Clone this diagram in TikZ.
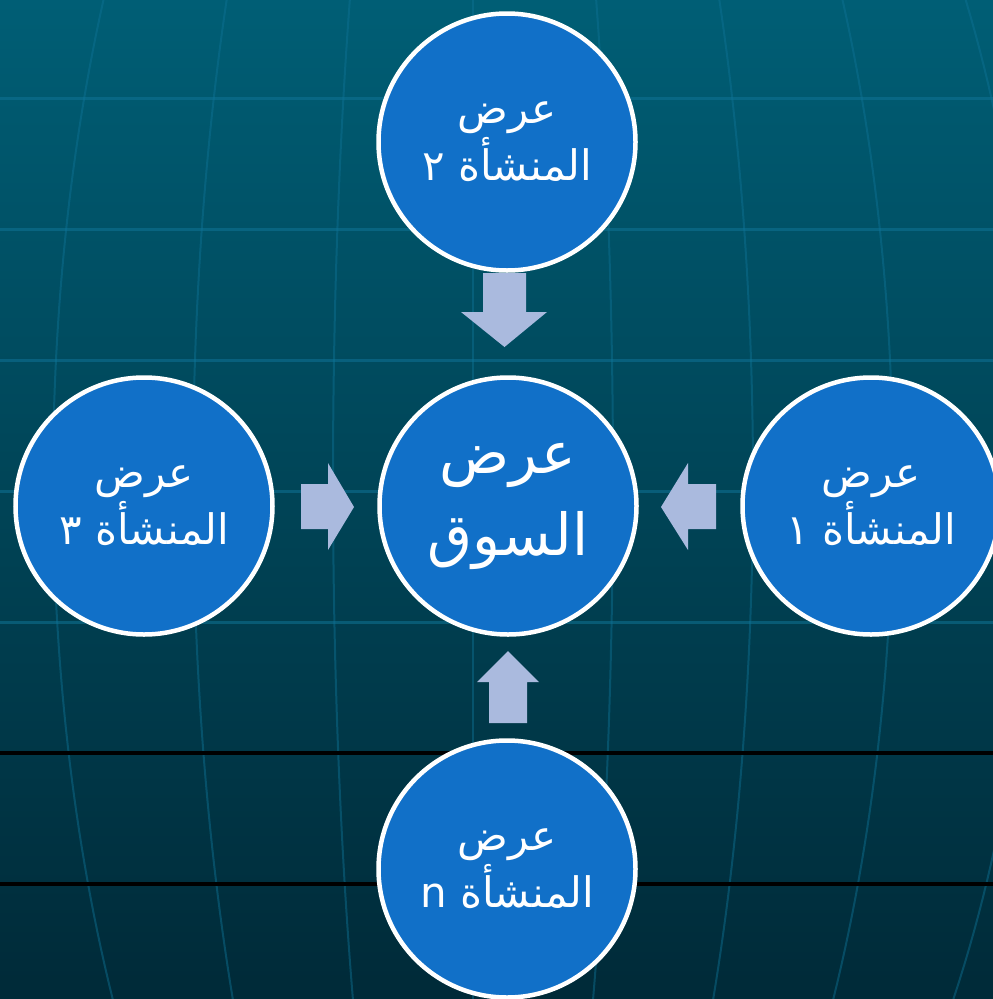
\documentclass[tikz,border=0pt]{standalone}
\usepackage{fontspec}
\newfontfamily\arabicfont[Script=Arabic]{DejaVu Sans}
\TeXXeTstate=1
\definecolor{bgtop}{RGB}{0,94,117}
\definecolor{bgbot}{RGB}{0,42,56}
\definecolor{gridteal}{RGB}{15,115,150}
\definecolor{circblue}{RGB}{17,112,200}
\definecolor{arrowblue}{RGB}{170,186,222}
\begin{document}
\begin{tikzpicture}[x=1pt,y=-1pt,
  circ/.style={circle, draw=white, line width=4.5pt, fill=circblue,
    minimum size=257pt, inner sep=0pt, text=white, align=center,
    font={\arabicfont\fontsize{42}{57}\selectfont}},
  bigcirc/.style={circ, font={\arabicfont\fontsize{58}{82}\selectfont}},
  blockarrow/.style={fill=arrowblue, draw=none},
  gridline/.style={draw=gridteal, draw opacity=0.55, line width=3pt},
  meridian/.style={draw=gridteal, draw opacity=0.45, line width=2pt},
  blackline/.style={draw=black, line width=3.5pt}]
\useasboundingbox (0,0) rectangle (993,999);
\shade[top color=bgtop, bottom color=bgbot] (0,0) rectangle (993,999);
\clip (0,0) rectangle (993,999);
% globe meridians
\draw[meridian] (473,0) -- (473,999);
\foreach \d in {-560,-420,-280,-140,140,280,420,560}
  \draw[meridian] plot[domain=0:999, samples=60, variable=\t]
    ({473+\d*sqrt(1-((\t-480)/1010)^2)}, \t);
% parallels
\foreach \yy in {98,229,360,491,622}
  \draw[gridline] (0,\yy) -- (993,\yy);
\foreach \yy in {753,884}
  \draw[blackline] (0,\yy) -- (993,\yy);
% circles
\node[circ] (s2) at (507,142) {\beginR عرض\endR\\\beginR المنشأة ٢\endR};
\node[bigcirc] (mkt) at (508,506) {\beginR عرض\endR\\\beginR السوق\endR};
\node[circ] (s3) at (144,506) {\beginR عرض\endR\\\beginR المنشأة ٣\endR};
\node[circ] (s1) at (871,506) {\beginR عرض\endR\\\beginR المنشأة ١\endR};
\node[circ] (sn) at (507,869) {\beginR عرض\endR\\\beginR المنشأة n\endR};
% block arrows
\fill[blockarrow] (483,273) -- (526,273) -- (526,312) -- (547,312) -- (504.5,347) -- (461,312) -- (483,312) -- cycle;
\fill[blockarrow] (489,723) -- (527,723) -- (527,682) -- (539,682) -- (508,651) -- (477,682) -- (489,682) -- cycle;
\fill[blockarrow] (301,484) -- (328,484) -- (328,463) -- (354,507) -- (328,550) -- (328,529) -- (301,529) -- cycle;
\fill[blockarrow] (716,484) -- (688,484) -- (688,463) -- (661,507) -- (688,550) -- (688,529) -- (716,529) -- cycle;
\end{tikzpicture}
\end{document}
